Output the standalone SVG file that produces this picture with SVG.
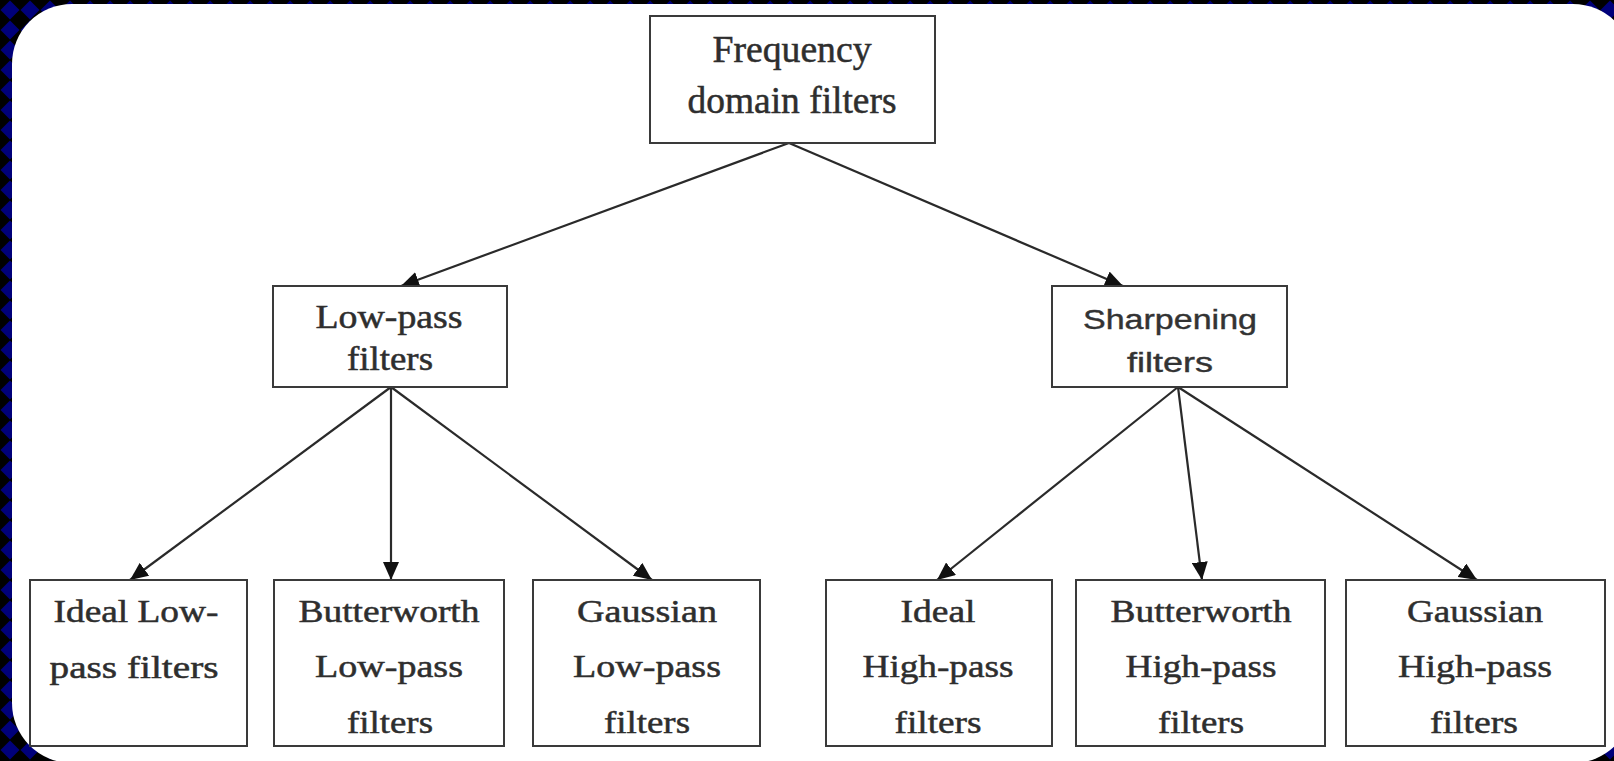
<svg xmlns="http://www.w3.org/2000/svg" width="1614" height="761" viewBox="0 0 1614 761">
  <defs>
    <pattern id="bgpat" x="0" y="0" width="20" height="20" patternUnits="userSpaceOnUse">
      <rect width="20" height="20" fill="#000"/>
      <polygon points="10,0.5 19.5,10 10,19.5 0.5,10" fill="#00007a"/>
    </pattern>
    <marker id="arrow" viewBox="0 0 18 16" refX="18" refY="8" markerWidth="18" markerHeight="16" markerUnits="userSpaceOnUse" orient="auto">
      <path d="M0,0 L18,8 L0,16 Z" fill="#111"/>
    </marker>
  </defs>
  <style>
    .box { fill: #fff; stroke: #3a3a3a; stroke-width: 2; }
    .side { stroke: #9a9a9a; stroke-width: 2; }
    .serif { font-family: "Liberation Serif", "Times New Roman", serif; fill: #2e2e2e; stroke: #2e2e2e; stroke-width: 0.5; text-anchor: middle; }
    .sans { font-family: "Liberation Sans", Arial, sans-serif; fill: #333; stroke: #333; stroke-width: 0.4; text-anchor: middle; }
    .t37 { font-size: 37px; }
    .t32 { font-size: 33px; }
    .t31 { font-size: 32px; }
    .s26 { font-size: 27px; }
    .edge { stroke: #2a2a2a; stroke-width: 2.2; fill: none; marker-end: url(#arrow); }
  </style>

  <rect x="0" y="0" width="1614" height="761" fill="url(#bgpat)"/>
  <rect x="12" y="4" width="1621" height="759" rx="60" ry="60" fill="#fff"/>

  <g id="connectors">
    <line class="edge" x1="789" y1="143" x2="401" y2="286"/>
    <line class="edge" x1="789" y1="143" x2="1123" y2="286"/>
    <line class="edge" x1="391" y1="387" x2="130" y2="580"/>
    <line class="edge" x1="391" y1="387" x2="391" y2="580"/>
    <line class="edge" x1="391" y1="387" x2="652" y2="580"/>
    <line class="edge" x1="1178" y1="387" x2="937" y2="580"/>
    <line class="edge" x1="1178" y1="387" x2="1202" y2="580"/>
    <line class="edge" x1="1178" y1="387" x2="1477" y2="580"/>
  </g>

  <g id="node-frequency">
    <rect class="box" x="650" y="16" width="285" height="127"/>
    <text class="serif t37" x="792" y="62" textLength="159" lengthAdjust="spacingAndGlyphs">Frequency</text>
    <text class="serif t37" x="792" y="113" textLength="209" lengthAdjust="spacingAndGlyphs">domain filters</text>
  </g>

  <g id="node-lowpass">
    <rect class="box" x="273" y="286" width="234" height="101"/>
    <text class="serif t32" x="389" y="328" textLength="147" lengthAdjust="spacingAndGlyphs">Low-pass</text>
    <text class="serif t32" x="390" y="370" textLength="86" lengthAdjust="spacingAndGlyphs">filters</text>
  </g>

  <g id="node-sharpening">
    <rect class="box" x="1052" y="286" width="235" height="101"/>
    <text class="sans s26" x="1170" y="329" textLength="174" lengthAdjust="spacingAndGlyphs">Sharpening</text>
    <text class="sans s26" x="1170" y="372" textLength="86" lengthAdjust="spacingAndGlyphs">filters</text>
  </g>

  <g id="node-ideal-lp">
    <rect class="box" x="30" y="580" width="217" height="166"/>
    <text class="serif t31" x="136" y="622" textLength="165" lengthAdjust="spacingAndGlyphs">Ideal Low-</text>
    <text class="serif t31" x="134" y="678" textLength="169" lengthAdjust="spacingAndGlyphs">pass filters</text>
  </g>

  <g id="node-butterworth-lp">
    <rect class="box" x="274" y="580" width="230" height="166"/>
    <text class="serif t31" x="389" y="622" textLength="181" lengthAdjust="spacingAndGlyphs">Butterworth</text>
    <text class="serif t31" x="389" y="677" textLength="148" lengthAdjust="spacingAndGlyphs">Low-pass</text>
    <text class="serif t31" x="390" y="733" textLength="86" lengthAdjust="spacingAndGlyphs">filters</text>
  </g>

  <g id="node-gaussian-lp">
    <rect class="box" x="533" y="580" width="227" height="166"/>
    <text class="serif t31" x="647" y="622" textLength="140" lengthAdjust="spacingAndGlyphs">Gaussian</text>
    <text class="serif t31" x="647" y="677" textLength="148" lengthAdjust="spacingAndGlyphs">Low-pass</text>
    <text class="serif t31" x="647" y="733" textLength="86" lengthAdjust="spacingAndGlyphs">filters</text>
  </g>

  <g id="node-ideal-hp">
    <rect class="box" x="826" y="580" width="226" height="166"/>
    <text class="serif t31" x="938" y="622" textLength="75" lengthAdjust="spacingAndGlyphs">Ideal</text>
    <text class="serif t31" x="938" y="677" textLength="151" lengthAdjust="spacingAndGlyphs">High-pass</text>
    <text class="serif t31" x="938" y="733" textLength="87" lengthAdjust="spacingAndGlyphs">filters</text>
  </g>

  <g id="node-butterworth-hp">
    <rect class="box" x="1076" y="580" width="249" height="166"/>
    <text class="serif t31" x="1201" y="622" textLength="181" lengthAdjust="spacingAndGlyphs">Butterworth</text>
    <text class="serif t31" x="1201" y="677" textLength="151" lengthAdjust="spacingAndGlyphs">High-pass</text>
    <text class="serif t31" x="1201" y="733" textLength="86" lengthAdjust="spacingAndGlyphs">filters</text>
  </g>

  <g id="node-gaussian-hp">
    <rect class="box" x="1346" y="580" width="259" height="166"/>
    <text class="serif t31" x="1475" y="622" textLength="136" lengthAdjust="spacingAndGlyphs">Gaussian</text>
    <text class="serif t31" x="1475" y="677" textLength="154" lengthAdjust="spacingAndGlyphs">High-pass</text>
    <text class="serif t31" x="1474" y="733" textLength="88" lengthAdjust="spacingAndGlyphs">filters</text>
  </g>
</svg>
